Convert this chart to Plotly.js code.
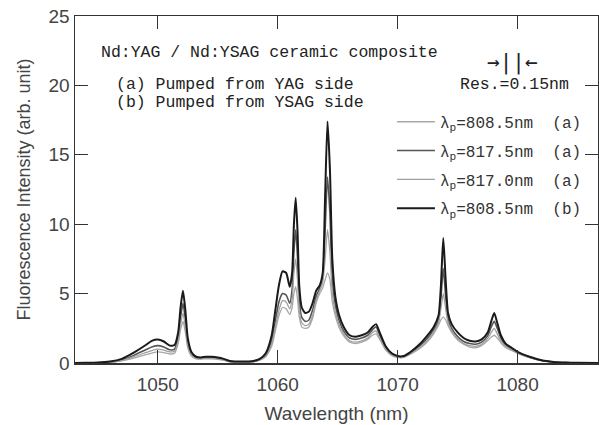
<!DOCTYPE html>
<html>
<head>
<meta charset="utf-8">
<script src="https://cdn.plot.ly/plotly-3.0.1.min.js"></script>
<style>html,body{margin:0;padding:0;background:#fff;}#chart{width:599px;height:425px;}</style>
</head>
<body>
<div id="chart"></div>
<script>
// Wavelength (nm)
const wavelength = [1043,1044,1045,1046,1047,1048,1049,1049.5,1050,1050.5,
  1051,1051.4,1051.7,1051.9,1052.1,1052.3,1052.5,1052.8,1053.2,1053.6,
  1054,1054.5,1055,1055.5,1056,1057,1058,1058.5,1059,1059.5,
  1059.8,1060.1,1060.4,1060.7,1061.0,1061.2,1061.35,1061.5,1061.65,1061.8,
  1062.0,1062.3,1062.6,1062.9,1063.2,1063.5,1063.75,1063.95,1064.15,1064.35,
  1064.55,1064.8,1065.1,1065.5,1066,1066.5,1067,1067.5,1067.9,1068.2,
  1068.5,1069,1069.5,1070,1070.5,1071,1071.5,1072,1072.5,1073,
  1073.4,1073.6,1073.8,1074.0,1074.2,1074.5,1075,1075.5,1076,1076.5,
  1077,1077.5,1077.8,1078.05,1078.3,1078.6,1079,1079.5,1080,1081,
  1082,1083,1084,1085,1087];

// λp = 808.5 nm (a)
const s808a = [0,0.01,0.02,0.05,0.15,0.35,0.6,0.72,0.8,0.75,
  0.65,0.7,1.4,2.4,3.0,2.2,1.1,0.5,0.3,0.28,
  0.3,0.3,0.27,0.2,0.09,0.06,0.09,0.2,0.45,1.2,
  2.3,3.4,4.0,3.9,3.5,4.0,5.0,5.5,4.6,3.3,
  2.6,2.5,2.6,3.2,4.3,5.0,5.4,6.0,6.5,6.0,
  4.4,3.4,2.6,1.95,1.5,1.4,1.5,1.7,2.0,2.1,
  1.7,0.95,0.55,0.4,0.4,0.6,0.85,1.15,1.55,2.1,
  2.7,3.1,3.3,3.1,2.7,2.2,1.65,1.35,1.15,1.1,
  1.25,1.6,1.85,2.0,1.8,1.45,1.1,0.9,0.7,0.38,
  0.16,0.06,0.02,0.01,0];

// λp = 817.5 nm (a)
const s8175a = [0,0.01,0.02,0.07,0.22,0.55,0.95,1.15,1.25,1.15,
  0.95,1.0,1.9,3.3,4.3,3.1,1.5,0.7,0.4,0.35,
  0.4,0.4,0.35,0.25,0.12,0.08,0.12,0.25,0.55,1.6,
  3.0,4.4,5.0,4.9,4.3,5.3,8.0,9.6,7.6,4.5,
  3.3,3.0,3.1,3.8,4.8,5.4,6.2,9.5,13.4,10.8,
  6.0,4.2,3.1,2.3,1.8,1.7,1.8,2.0,2.4,2.6,
  2.0,1.1,0.65,0.45,0.45,0.7,1.0,1.35,1.8,2.4,
  3.1,4.6,6.8,4.8,3.2,2.5,1.9,1.55,1.4,1.35,
  1.5,1.95,2.6,3.0,2.5,1.8,1.3,1.0,0.75,0.42,
  0.18,0.07,0.03,0.01,0];

// λp = 817.0 nm (a)
const s8170a = [0,0.01,0.02,0.06,0.18,0.45,0.75,0.9,1.0,0.92,
  0.8,0.85,1.6,2.8,3.6,2.6,1.3,0.6,0.35,0.3,
  0.35,0.35,0.3,0.22,0.1,0.07,0.1,0.22,0.5,1.4,
  2.6,3.8,4.5,4.4,3.9,4.6,6.5,7.5,6.0,3.8,
  2.9,2.7,2.8,3.4,4.5,5.2,5.8,7.5,9.6,8.0,
  5.0,3.7,2.8,2.1,1.6,1.5,1.6,1.8,2.2,2.3,
  1.8,1.0,0.6,0.42,0.42,0.65,0.9,1.25,1.65,2.2,
  2.9,3.9,5.0,3.9,2.9,2.3,1.75,1.4,1.25,1.2,
  1.35,1.75,2.2,2.5,2.1,1.6,1.2,0.95,0.72,0.4,
  0.17,0.07,0.03,0.01,0];

// λp = 808.5 nm (b)
const s808b = [0,0.01,0.03,0.1,0.3,0.75,1.3,1.6,1.7,1.55,
  1.25,1.3,2.2,4.0,5.2,3.8,1.8,0.8,0.45,0.4,
  0.45,0.45,0.4,0.3,0.15,0.1,0.15,0.3,0.7,2.0,
  3.8,5.6,6.6,6.5,5.5,6.5,10.0,11.9,9.5,5.5,
  4.0,3.6,3.7,4.3,5.2,5.6,6.5,12.0,17.4,14.0,
  7.5,4.8,3.5,2.6,2.0,1.9,2.0,2.2,2.6,2.8,
  2.2,1.2,0.7,0.5,0.5,0.75,1.1,1.5,2.0,2.6,
  3.4,5.5,9.0,6.0,3.6,2.8,2.2,1.8,1.6,1.55,
  1.7,2.2,3.0,3.6,2.9,2.0,1.4,1.1,0.8,0.45,
  0.2,0.08,0.03,0.01,0];

const seriesNames = ["λ<sub>p</sub>=808.5nm\u00a0\u00a0(a)", "λ<sub>p</sub>=817.5nm\u00a0\u00a0(a)",
  "λ<sub>p</sub>=817.0nm\u00a0\u00a0(a)", "λ<sub>p</sub>=808.5nm\u00a0\u00a0(b)"];
const seriesData = [s808a, s8175a, s8170a, s808b];
const seriesColors = ["#a8a8a8", "#555555", "#a0a0a0", "#1a1a1a"];
const seriesWidths = [1.3, 1.6, 1.3, 2.0];

const traces = seriesData.map((ys, i) => ({
  type: "scatter", mode: "lines", x: wavelength, y: ys, name: seriesNames[i],
  legendgroup: "g" + i,
  line: {color: seriesColors[i], width: seriesWidths[i], shape: "spline", smoothing: 0.6}
}));

const mono = "Liberation Mono, DejaVu Sans Mono, monospace";
const sans = "Liberation Sans, Arial, sans-serif";
const axisCommon = {
  showline: true, linecolor: "#333", linewidth: 1.5, mirror: "ticks",
  ticks: "inside", ticklen: 13, tickwidth: 1.3, tickcolor: "#333",
  showgrid: false, zeroline: false,
  tickfont: {family: sans, size: 19, color: "#444"}
};

const layout = {
  width: 599, height: 425,
  margin: {l: 75, r: 1, t: 16, b: 62},
  paper_bgcolor: "#fff", plot_bgcolor: "#fff",
  showlegend: true,
  legend: {x: 0.606, y: 0.744, xanchor: "left", yanchor: "top", bgcolor: "rgba(0,0,0,0)",
    font: {family: mono, size: 16, color: "#333"}, tracegroupgap: 5, itemwidth: 38},
  xaxis: Object.assign({}, axisCommon, {
    range: [1043.1, 1086.7], tickvals: [1050, 1060, 1070, 1080], ticklabelstandoff: 4,
    title: {text: "Wavelength (nm)", standoff: 12, font: {family: sans, size: 19, color: "#444"}}
  }),
  yaxis: Object.assign({}, axisCommon, {
    range: [0, 25], tickvals: [0, 5, 10, 15, 20, 25],
    title: {text: "Fluorescence Intensity (arb. unit)", standoff: 13, font: {family: sans, size: 18, color: "#444"}}
  }),
  annotations: [
    {xref: "paper", yref: "paper", x: 0.0459, y: 0.896, xanchor: "left", yanchor: "middle", showarrow: false,
     text: "Nd:YAG / Nd:YSAG ceramic composite", font: {family: mono, size: 16.5, color: "#222"}},
    {xref: "paper", yref: "paper", x: 0.0746, y: 0.804, xanchor: "left", yanchor: "middle", showarrow: false,
     text: "(a) Pumped from YAG side", font: {family: mono, size: 16.5, color: "#222"}},
    {xref: "paper", yref: "paper", x: 0.0746, y: 0.752, xanchor: "left", yanchor: "middle", showarrow: false,
     text: "(b) Pumped from YSAG side", font: {family: mono, size: 16.5, color: "#222"}},
    {xref: "paper", yref: "paper", x: 0.8356, y: 0.8646, xanchor: "center", yanchor: "middle", showarrow: false,
     text: "→||←", font: {family: "DejaVu Sans Mono, monospace", size: 21, color: "#222"}},
    {xref: "paper", yref: "paper", x: 0.732, y: 0.804, xanchor: "left", yanchor: "middle", showarrow: false,
     text: "Res.=0.15nm", font: {family: mono, size: 16.5, color: "#222"}}
  ]
};

Plotly.newPlot("chart", traces, layout, {displayModeBar: false, staticPlot: true});
</script>
</body>
</html>
